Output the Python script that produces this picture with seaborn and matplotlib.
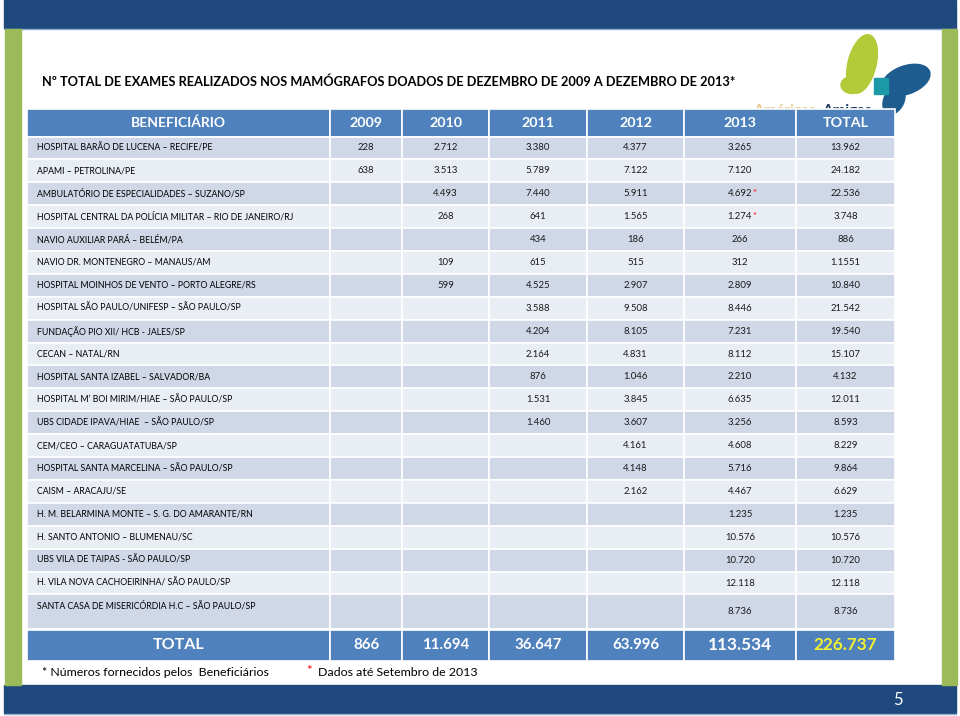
import matplotlib
matplotlib.use("Agg")
import matplotlib.pyplot as plt
from matplotlib.patches import Ellipse, Rectangle
import seaborn as sns

beneficiarios = [
    "HOSPITAL BARÃO DE LUCENA – RECIFE/PE",
    "APAMI – PETROLINA/PE",
    "AMBULATÓRIO DE ESPECIALIDADES – SUZANO/SP",
    "HOSPITAL CENTRAL DA POLÍCIA MILITAR – RIO DE JANEIRO/RJ",
    "NAVIO AUXILIAR PARÁ – BELÉM/PA",
    "NAVIO DR. MONTENEGRO – MANAUS/AM",
    "HOSPITAL MOINHOS DE VENTO – PORTO ALEGRE/RS",
    "HOSPITAL SÃO PAULO/UNIFESP – SÃO PAULO/SP",
    "FUNDAÇÃO PIO XII/ HCB - JALES/SP",
    "CECAN – NATAL/RN",
    "HOSPITAL SANTA IZABEL – SALVADOR/BA",
    "HOSPITAL M’ BOI MIRIM/HIAE – SÃO PAULO/SP",
    "UBS CIDADE IPAVA/HIAE  – SÃO PAULO/SP",
    "CEM/CEO – CARAGUATATUBA/SP",
    "HOSPITAL SANTA MARCELINA – SÃO PAULO/SP",
    "CAISM – ARACAJU/SE",
    "H. M. BELARMINA MONTE – S. G. DO AMARANTE/RN",
    "H. SANTO ANTONIO – BLUMENAU/SC",
    "UBS VILA DE TAIPAS - SÃO PAULO/SP",
    "H. VILA NOVA CACHOEIRINHA/ SÃO PAULO/SP",
    "SANTA CASA DE MISERICÓRDIA H.C – SÃO PAULO/SP",
]
anos = ["2009", "2010", "2011", "2012", "2013", "TOTAL"]
v2009 = ["228", "638"] + [""] * 19
v2010 = ["2.712", "3.513", "4.493", "268", "", "109", "599"] + [""] * 14
v2011 = ["3.380", "5.789", "7.440", "641", "434", "615", "4.525", "3.588", "4.204",
         "2.164", "876", "1.531", "1.460"] + [""] * 8
v2012 = ["4.377", "7.122", "5.911", "1.565", "186", "515", "2.907", "9.508", "8.105",
         "4.831", "1.046", "3.845", "3.607", "4.161", "4.148", "2.162"] + [""] * 5
v2013 = ["3.265", "7.120", "4.692", "1.274", "266", "312", "2.809", "8.446", "7.231",
         "8.112", "2.210", "6.635", "3.256", "4.608", "5.716", "4.467", "1.235",
         "10.576", "10.720", "12.118", "8.736"]
vtotal = ["13.962", "24.182", "22.536", "3.748", "886", "1.1551", "10.840", "21.542",
          "19.540", "15.107", "4.132", "12.011", "8.593", "8.229", "9.864", "6.629",
          "1.235", "10.576", "10.720", "12.118", "8.736"]
asterisco_2013 = ["4.692", "1.274"]
totais = ["866", "11.694", "36.647", "63.996", "113.534", "226.737"]

titulo = "Nº TOTAL DE EXAMES REALIZADOS NOS MAMÓGRAFOS DOADOS DE DEZEMBRO DE 2009 A DEZEMBRO DE 2013*"

sns.set_theme(style="white")
plt.rcParams["font.family"] = ["Lato", "DejaVu Sans"]

azul_escuro = "#1F497D"
azul = "#4F81BD"
verde = "#9BBB59"
linha_escura = "#D0D8E8"
linha_clara = "#E9EDF4"

fig = plt.figure(figsize=(9.6, 7.16), dpi=100)
ax = fig.add_axes([0, 0, 1, 1])
ax.set_xlim(0, 960)
ax.set_ylim(716, 0)
ax.axis("off")

# moldura do slide
ax.add_patch(Rectangle((4, 0), 952, 28, color=azul_escuro, zorder=1))
ax.plot([4, 956], [28.5, 28.5], color="#8EAACF", lw=1, zorder=1)
ax.add_patch(Rectangle((4, 685), 952, 28, color=azul_escuro, zorder=1))
ax.plot([4, 956], [713.5, 713.5], color="#8EAACF", lw=1, zorder=1)
ax.add_patch(Rectangle((5, 29), 16, 656, color=verde, zorder=1))
ax.add_patch(Rectangle((942, 29), 15, 656, color=verde, zorder=1))
ax.text(898, 700, "5", color="white", fontsize=12, ha="center", va="center", zorder=3)

# logotipo (aproximado)
ax.add_patch(Ellipse((862, 64), 28, 60, angle=14, color="#B3CB39", zorder=1))
ax.add_patch(Ellipse((852, 85), 22, 17, angle=0, color="#B3CB39", zorder=1))
ax.add_patch(Ellipse((906, 80), 50, 28, angle=-20, color="#1E5B8E", zorder=1))
ax.add_patch(Ellipse((894, 100), 20, 30, angle=25, color="#1E5B8E", zorder=1))
ax.add_patch(Rectangle((874, 78), 14, 16, color="#1D9AA8", zorder=1))
ax.text(820, 115, "Américas ", color="#E6C98E", fontsize=11, fontweight="bold",
        ha="right", va="baseline", zorder=1)
ax.text(822, 115, "Amigas", color="#1F3A5F", fontsize=11, fontweight="bold",
        ha="left", va="baseline", zorder=1)

ax.text(42, 82, titulo, fontsize=9.15, fontweight="bold", color="black",
        ha="left", va="center", zorder=3)

# geometria da tabela
bordas = [27, 330, 402, 489, 587, 684, 796, 895]
cab_topo, cab_base = 109, 136.5
alturas = [22.9] * 20 + [35]
topos = [cab_base]
for h in alturas[:-1]:
    topos.append(topos[-1] + h)
centros = [t + h / 2 for t, h in zip(topos, alturas)]
total_topo = topos[-1] + alturas[-1] + 0.5
total_alt = 31
cores = [linha_escura if i % 2 == 0 else linha_clara for i in range(len(beneficiarios))]

colunas = [beneficiarios, v2009, v2010, v2011, v2012, v2013, vtotal]
for j in range(len(bordas) - 1):
    esq, larg = bordas[j], bordas[j + 1] - bordas[j]
    # cabeçalho
    ax.barh([(cab_topo + cab_base) / 2], [larg], left=esq, height=cab_base - cab_topo,
            color=azul, edgecolor="white", linewidth=1.2, zorder=2)
    # corpo
    ax.barh(centros, [larg] * len(centros), left=esq, height=alturas,
            color=cores, edgecolor="white", linewidth=1.2, zorder=2)
    # total
    ax.barh([total_topo + total_alt / 2], [larg], left=esq, height=total_alt,
            color=azul, edgecolor="white", linewidth=1.2, zorder=2)

# cabeçalho
cab_y = (cab_topo + cab_base) / 2
ax.text((bordas[0] + bordas[1]) / 2, cab_y, "BENEFICIÁRIO", color="white", fontsize=10,
        fontweight="bold", ha="center", va="center", zorder=3)
for j, ano in enumerate(anos):
    ax.text((bordas[j + 1] + bordas[j + 2]) / 2, cab_y, ano, color="white", fontsize=10.3,
            fontweight="bold", ha="center", va="center", zorder=3)

# corpo
for i, nome in enumerate(beneficiarios):
    y_nome = topos[i] + 11.5 if i == len(beneficiarios) - 1 else centros[i]
    ax.text(37, y_nome, nome, fontsize=6.3, color="black", ha="left", va="center", zorder=3)
    for j, col in enumerate(colunas[1:]):
        valor = col[i]
        if not valor:
            continue
        xc = (bordas[j + 1] + bordas[j + 2]) / 2
        t = ax.text(xc, centros[i], valor, fontsize=6.9, color="#1a1a1a",
                    ha="center", va="center", zorder=3)
        if anos[j] == "2013" and valor in asterisco_2013:
            ax.annotate("*", xy=(1, 1), xycoords=t, xytext=(0.5, 0),
                        textcoords="offset points", fontsize=6.8, color="red",
                        ha="left", va="top", zorder=3)

# linha total
ty = total_topo + total_alt / 2
ax.text((bordas[0] + bordas[1]) / 2, ty, "TOTAL", color="white", fontsize=11.5,
        fontweight="bold", ha="center", va="center", zorder=3)
for j, v in enumerate(totais):
    grande = j >= 4
    ax.text((bordas[j + 1] + bordas[j + 2]) / 2, ty, v,
            color="#F2F230" if j == 5 else "white",
            fontsize=12.3 if grande else 10.8, fontweight="bold",
            ha="center", va="center", zorder=3)

# notas
ax.text(42, 673, "* Números fornecidos pelos  Beneficiários", fontsize=8.9,
        color="black", ha="left", va="center", zorder=3)
ax.text(306, 671, "*", fontsize=9.5, color="red", ha="left", va="center", zorder=3)
ax.text(318, 673, "Dados até Setembro de 2013", fontsize=8.9,
        color="black", ha="left", va="center", zorder=3)

fig.savefig("out.png", dpi=100)
